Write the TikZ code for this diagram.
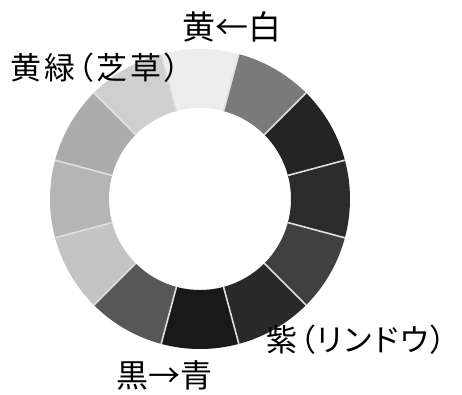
\documentclass[tikz,border=0pt]{standalone}
\usepackage{fontspec}
\newfontfamily\jpfont{Noto Sans CJK JP}
\newfontfamily\jppfont[RawFeature=+palt]{Noto Sans CJK JP}
\tikzset{
  lbl/.style={font=\jpfont\fontsize{32}{34}\selectfont, inner sep=0pt, text=black},
  plbl/.style={font=\jppfont\fontsize{31}{34}\selectfont, inner sep=0pt, text=black},
  sep/.style={draw=white!88!black, line width=1.6pt}
}
\newcommand{\gp}{\hspace{3pt}}
\newcommand{\gq}{\hspace{2pt}}
\begin{document}
\begin{tikzpicture}[x=1pt,y=1pt]
\useasboundingbox[fill=white] (0,0) rectangle (462,394);
\def\Ro{150}
\def\Ri{91}
\begin{scope}[shift={(200,195)}]
  \foreach \a/\g in {90/93, 60/48, 30/14, 0/17, -30/25, -60/16, -90/10, -120/34, -150/77, -180/71, -210/67, -240/81} {
    \pgfmathsetmacro{\aa}{\a-15}
    \pgfmathsetmacro{\bb}{\a+15}
    \fill[black!\the\numexpr100-\g\relax!white] (\aa:\Ro) arc[start angle=\aa, end angle=\bb, radius=\Ro] -- (\bb:\Ri) arc[start angle=\bb, end angle=\aa, radius=\Ri] -- cycle;
  }
  \foreach \b in {15,45,...,345} {
    \draw[sep] (\b:\Ri) -- (\b:\Ro);
  }
\end{scope}
\node[lbl, font=\jpfont\fontsize{33}{35}\selectfont] (top) at (232,367) {黄←白};
\node[plbl, anchor=west] (yg) at (10,326) {黄\gp 緑\gp （\gp 芝\gp 草\gp ）};
\node[plbl, anchor=east] (pur) at (446,54) {紫\gq （\gq リ\gq ン\gq ド\gq ウ\gq ）};
\node[lbl] (bot) at (164,19) {黒→青};
\end{tikzpicture}
\end{document}
